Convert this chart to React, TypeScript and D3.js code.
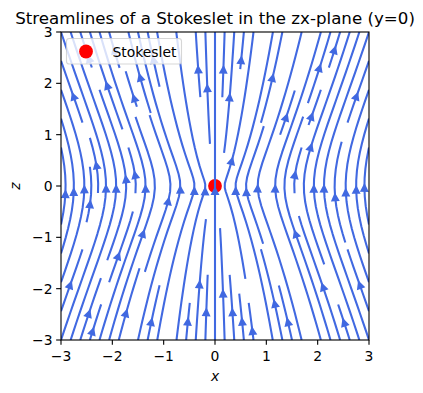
import React from 'react';
import * as d3 from 'd3';

// axis ticks
const xTicks = [-3, -2, -1, 0, 1, 2, 3];
const zTicks = [-3, -2, -1, 0, 1, 2, 3];
const xDomain: [number, number] = [-3, 3];
const zDomain: [number, number] = [-3, 3];
const gridCount = 100;
const density = 1.1;

// Stokeslet at the origin, point force along +z
const stokesletPos = [0, 0];
const force = [0, 1]; // (Fx, Fz)

const W = 423;
const H = 393;
const axLeft = 61;
const axTop = 32;
const axSize = 308;
const lw = 2.08;
const lineColor = '#4169e1';
const font = 'DejaVu Sans, sans-serif';

const fmt = (v: number) => (v < 0 ? '\u2212' + Math.abs(v) : String(v));

// Stokeslet velocity in the zx-plane: u = F/r + (x.F) x / r^3
function velocity(x: number, z: number): [number, number] {
  const rx = x - stokesletPos[0];
  const rz = z - stokesletPos[1];
  const r = Math.sqrt(rx * rx + rz * rz);
  const dot = rx * force[0] + rz * force[1];
  return [force[0] / r + (dot * rx) / (r * r * r), force[1] / r + (dot * rz) / (r * r * r)];
}

const OOB = 'oob';
const INVALID = 'invalid';
const TERM = 'term';

// port of matplotlib's streamplot trajectory generation
function streamTrajectories(xs: number[], ys: number[], U: number[][], V: number[][]) {
  const nx = xs.length;
  const ny = ys.length;
  const dx = xs[1] - xs[0];
  const dy = ys[1] - ys[0];
  const mnx = Math.floor(30 * density);
  const mny = Math.floor(30 * density);
  const mask = Array.from({ length: mny }, () => new Array(mnx).fill(0));
  const xg2m = (mnx - 1) / (nx - 1);
  const yg2m = (mny - 1) / (ny - 1);
  const ug = U.map((row) => row.map((v) => v / dx));
  const vg = V.map((row) => row.map((v) => v / dy));
  const speed = ug.map((row, j) =>
    row.map((v, i) => Math.hypot(v / (nx - 1), vg[j][i] / (ny - 1)))
  );

  let traj: [number, number][] = [];
  let current: [number, number] | null = null;

  const pyRound = (v: number) => {
    const f = Math.floor(v);
    const d = v - f;
    if (d > 0.5) return f + 1;
    if (d < 0.5) return f;
    return f % 2 === 0 ? f : f + 1;
  };
  const within = (xi: number, yi: number) => xi >= 0 && xi <= nx - 1 && yi >= 0 && yi <= ny - 1;
  const g2m = (xi: number, yi: number): [number, number] => [pyRound(xi * xg2m), pyRound(yi * yg2m)];

  const updateMask = (xm: number, ym: number) => {
    if (!current || current[0] !== xm || current[1] !== ym) {
      if (mask[ym][xm] === 0) {
        traj.push([ym, xm]);
        mask[ym][xm] = 1;
        current = [xm, ym];
      } else {
        throw INVALID;
      }
    }
  };

  const interp = (a: number[][], xi: number, yi: number) => {
    const x = Math.trunc(xi);
    const y = Math.trunc(yi);
    const xn = x === nx - 1 ? x : x + 1;
    const yn = y === ny - 1 ? y : y + 1;
    const xt = xi - x;
    const yt = yi - y;
    const a0 = a[y][x] * (1 - xt) + a[y][xn] * xt;
    const a1 = a[yn][x] * (1 - xt) + a[yn][xn] * xt;
    const ai = a0 * (1 - yt) + a1 * yt;
    if (!isFinite(ai)) throw TERM;
    return ai;
  };

  const forward = (xi: number, yi: number): [number, number] => {
    if (!within(xi, yi)) throw OOB;
    const dsdt = interp(speed, xi, yi);
    if (dsdt === 0) throw TERM;
    const dtds = 1 / dsdt;
    return [interp(ug, xi, yi) * dtds, interp(vg, xi, yi) * dtds];
  };
  const backward = (xi: number, yi: number): [number, number] => {
    const [a, b] = forward(xi, yi);
    return [-a, -b];
  };

  const eulerStep = (pts: [number, number][], f: typeof forward) => {
    const [xi, yi] = pts[pts.length - 1];
    const [cx, cy] = f(xi, yi);
    let dsx = Infinity;
    let dsy = Infinity;
    if (cx < 0) dsx = xi / -cx;
    else if (cx > 0) dsx = (nx - 1 - xi) / cx;
    if (cy < 0) dsy = yi / -cy;
    else if (cy > 0) dsy = (ny - 1 - yi) / cy;
    const ds = Math.min(dsx, dsy);
    pts.push([xi + cx * ds, yi + cy * ds]);
    return ds;
  };

  const rk12 = (x0: number, y0: number, f: typeof forward, maxlength: number) => {
    const maxerror = 0.003;
    const maxds = Math.min(1 / mnx, 1 / mny, 0.1);
    let ds = maxds;
    let stotal = 0;
    let xi = x0;
    let yi = y0;
    const pts: [number, number][] = [];
    let guard = 0;
    while (guard++ < 20000) {
      let k1: [number, number];
      let k2: [number, number];
      try {
        if (within(xi, yi)) pts.push([xi, yi]);
        else throw OOB;
        k1 = f(xi, yi);
        k2 = f(xi + ds * k1[0], yi + ds * k1[1]);
      } catch (e) {
        if (e === OOB && pts.length) {
          try {
            stotal += eulerStep(pts, f);
          } catch (e2) {
            /* ignore */
          }
        }
        break;
      }
      const dx1 = ds * k1[0];
      const dy1 = ds * k1[1];
      const dx2 = ds * 0.5 * (k1[0] + k2[0]);
      const dy2 = ds * 0.5 * (k1[1] + k2[1]);
      const error = Math.hypot((dx2 - dx1) / (nx - 1), (dy2 - dy1) / (ny - 1));
      if (error < maxerror) {
        xi += dx2;
        yi += dy2;
        try {
          if (!within(xi, yi)) throw INVALID;
          const [xm, ym] = g2m(xi, yi);
          updateMask(xm, ym);
        } catch (e) {
          break;
        }
        if (stotal + ds > maxlength) break;
        stotal += ds;
      }
      ds = error === 0 ? maxds : Math.min(maxds, 0.85 * ds * Math.sqrt(maxerror / error));
    }
    return { s: stotal, pts };
  };

  const integrate = (x0: number, y0: number) => {
    traj = [];
    try {
      const [xm, ym] = g2m(x0, y0);
      updateMask(xm, ym);
    } catch (e) {
      return null;
    }
    let stotal = 0;
    let out: [number, number][] = [];
    const b = rk12(x0, y0, backward, 4.0);
    stotal += b.s;
    out = out.concat(b.pts.slice().reverse());
    current = g2m(x0, y0);
    const f = rk12(x0, y0, forward, 4.0);
    stotal += f.s;
    out = out.concat(f.pts.slice(1));
    if (stotal > 0.1) return out;
    for (const [ym, xm] of traj) mask[ym][xm] = 0;
    return null;
  };

  // spiral of starting points
  const starts: [number, number][] = [];
  {
    let xfirst = 0;
    let yfirst = 1;
    let xlast = mnx - 1;
    let ylast = mny - 1;
    let x = 0;
    let y = 0;
    let dir = 'right';
    for (let i = 0; i < mnx * mny; i++) {
      starts.push([x, y]);
      if (dir === 'right') {
        x += 1;
        if (x >= xlast) {
          xlast -= 1;
          dir = 'up';
        }
      } else if (dir === 'up') {
        y += 1;
        if (y >= ylast) {
          ylast -= 1;
          dir = 'left';
        }
      } else if (dir === 'left') {
        x -= 1;
        if (x <= xfirst) {
          xfirst += 1;
          dir = 'down';
        }
      } else {
        y -= 1;
        if (y <= yfirst) {
          yfirst += 1;
          dir = 'right';
        }
      }
    }
  }

  const result: [number, number][][] = [];
  for (const [xm, ym] of starts) {
    if (mask[ym][xm] === 0) {
      const t = integrate(xm / xg2m, ym / yg2m);
      if (t) result.push(t.map(([gx, gy]) => [gx * dx + xs[0], gy * dy + ys[0]] as [number, number]));
    }
  }
  return result;
}

const xs = d3.range(gridCount).map((i) => xDomain[0] + ((xDomain[1] - xDomain[0]) * i) / (gridCount - 1));
const zs = d3.range(gridCount).map((i) => zDomain[0] + ((zDomain[1] - zDomain[0]) * i) / (gridCount - 1));
const Ux = zs.map((z) => xs.map((x) => velocity(x, z)[0]));
const Uz = zs.map((z) => xs.map((x) => velocity(x, z)[1]));
const trajectories = streamTrajectories(xs, zs, Ux, Uz);

export default function App() {
  const x = d3.scaleLinear().domain(xDomain).range([axLeft, axLeft + axSize]);
  const y = d3.scaleLinear().domain(zDomain).range([axTop + axSize, axTop]);
  const line = d3
    .line<[number, number]>()
    .x((d) => x(d[0]))
    .y((d) => y(d[1]));

  // arrow heads halfway along each trajectory
  const headLen = 5.56;
  const headHalf = 2.78;
  const arrows = trajectories.map((t) => {
    const s: number[] = [];
    let acc = 0;
    for (let i = 1; i < t.length; i++) {
      acc += Math.hypot(t[i][0] - t[i - 1][0], t[i][1] - t[i - 1][1]);
      s.push(acc);
    }
    const half = acc / 2;
    let n = s.findIndex((v) => v >= half);
    if (n < 0) n = s.length;
    const tail = t[n];
    const nxt = t[Math.min(n + 1, t.length - 1)];
    const head = [(tail[0] + nxt[0]) / 2, (tail[1] + nxt[1]) / 2];
    const px0 = x(tail[0]);
    const py0 = y(tail[1]);
    const px1 = x(head[0]);
    const py1 = y(head[1]);
    let ddx = px1 - px0;
    let ddy = py1 - py0;
    const len = Math.hypot(ddx, ddy) || 1;
    ddx /= len;
    ddy /= len;
    const pad = (0.5 * lw) / (headHalf / Math.hypot(headLen, headHalf));
    const tipx = px1 - ddx * pad;
    const tipy = py1 - ddy * pad;
    const bx = tipx - ddx * headLen;
    const by = tipy - ddy * headLen;
    const p = [
      [tipx, tipy],
      [bx - ddy * headHalf, by + ddx * headHalf],
      [bx + ddy * headHalf, by - ddx * headHalf],
    ];
    return p.map((q) => q.join(',')).join(' ');
  });

  return (
    <svg
      width={W}
      height={H}
      style={{ position: 'absolute', left: 0, top: 0, background: '#fff' }}
      fontFamily={font}
    >
      <defs>
        <clipPath id="ax-clip">
          <rect x={axLeft} y={axTop} width={axSize} height={axSize} />
        </clipPath>
      </defs>
      <rect width={W} height={H} fill="#fff" />

      <g clipPath="url(#ax-clip)">
        <circle cx={x(stokesletPos[0])} cy={y(stokesletPos[1])} r={6.9} fill="red" />
        {trajectories.map((t, i) => (
          <path key={i} d={line(t) || ''} fill="none" stroke={lineColor} strokeWidth={lw} strokeLinejoin="round" />
        ))}
        {arrows.map((pts, i) => (
          <polygon key={i} points={pts} fill={lineColor} stroke={lineColor} strokeWidth={lw} strokeLinejoin="miter" />
        ))}
      </g>

      {/* frame */}
      <rect x={axLeft} y={axTop} width={axSize} height={axSize} fill="none" stroke="#000" strokeWidth={1.11} />

      {/* x ticks */}
      {xTicks.map((t) => (
        <g key={'x' + t}>
          <line x1={x(t)} x2={x(t)} y1={axTop + axSize} y2={axTop + axSize + 4.86} stroke="#000" strokeWidth={1.11} />
          <text x={x(t)} y={axTop + axSize + 21} textAnchor="middle" fontSize={13.9} fill="#000">
            {fmt(t)}
          </text>
        </g>
      ))}
      {/* z ticks */}
      {zTicks.map((t) => (
        <g key={'z' + t}>
          <line x1={axLeft - 4.86} x2={axLeft} y1={y(t)} y2={y(t)} stroke="#000" strokeWidth={1.11} />
          <text x={axLeft - 8.5} y={y(t)} dy="0.36em" textAnchor="end" fontSize={13.9} fill="#000">
            {fmt(t)}
          </text>
        </g>
      ))}

      <text x={axLeft + axSize / 2} y={381} textAnchor="middle" fontSize={13.9} fontStyle="italic" fill="#000">
        x
      </text>
      <text
        transform={`translate(20,${axTop + axSize / 2}) rotate(-90)`}
        textAnchor="middle"
        fontSize={13.9}
        fontStyle="italic"
        fill="#000"
      >
        z
      </text>

      <text x={axLeft + axSize / 2} y={24} textAnchor="middle" fontSize={16.67} fill="#000">
        Streamlines of a Stokeslet in the zx-plane (y=0)
      </text>

      {/* legend */}
      <rect x={66.5} y={38.5} width={115} height={25.5} rx={2.8} fill="#fff" fillOpacity={0.8} stroke="#ccc" strokeOpacity={0.8} strokeWidth={1.1} />
      <circle cx={86} cy={51.5} r={6.9} fill="red" />
      <text x={112.5} y={56.5} fontSize={13.9} fill="#000">
        Stokeslet
      </text>
    </svg>
  );
}
